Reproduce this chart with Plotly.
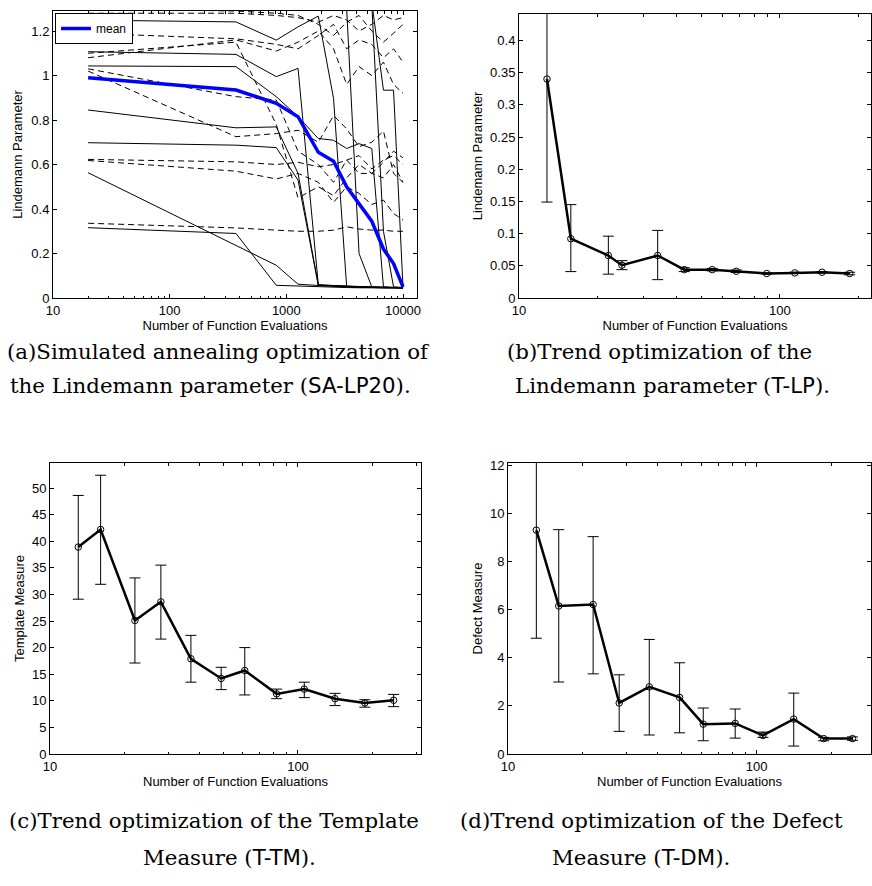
"""
Four-panel figure: simulated annealing runs and trend optimization results.
"""

import plotly.graph_objects as go

W, H = 872, 886

# ---- panel (a): simulated annealing runs, Lindemann parameter ----
sa_evals = [20, 370, 820, 1260, 1880, 2540, 3290, 4200, 5400, 6800, 8300, 10000]

# runs that converged (solid)
sa_solid = [
    [0.316, 0.290, 0.057, 0.053, 0.050, 0.048, 0.047, 0.046, 0.046, 0.045, 0.045, 0.045],
    [0.563, 0.236, 0.147, 0.062, 0.055, 0.052, 0.050, 0.048, 0.047, 0.046, 0.046, 0.045],
    [0.698, 0.687, 0.676, 0.530, 0.057, 0.054, 0.052, 0.050, 0.048, 0.047, 0.046, 0.046],
    [0.845, 0.765, 0.769, 0.560, 0.058, 0.055, 0.053, 0.051, 0.049, 0.048, 0.047, 0.046],
    [1.107, 1.095, 0.995, 1.032, 0.060, 0.055, 0.053, 0.051, 0.050, 0.048, 0.047, 0.046],
    [1.249, 1.241, 1.159, 1.219, 1.267, 0.897, 0.050, 0.048, 0.047, 0.046, 0.046, 0.045],
    [1.043, 1.040, 0.905, 0.815, 0.717, 0.709, 0.672, 0.694, 0.672, 0.050, 0.048, 0.047],
    [1.360, 1.350, 1.340, 1.330, 1.320, 1.310, 1.300, 0.200, 0.050, 0.048, 0.047, 0.046],
    [1.380, 1.370, 1.360, 1.350, 1.340, 1.330, 1.320, 1.310, 1.330, 0.934, 0.934, 0.048],
    [1.400, 1.390, 1.380, 1.370, 1.360, 1.350, 1.340, 1.330, 1.320, 0.300, 0.050, 0.047],
]

# runs that did not converge (dashed)
sa_dashed = [
    [0.336, 0.315, 0.305, 0.300, 0.300, 0.305, 0.320, 0.310, 0.305, 0.305, 0.300, 0.300],
    [0.623, 0.612, 0.600, 0.610, 0.590, 0.600, 0.620, 0.640, 0.580, 0.620, 0.640, 0.600],
    [0.618, 0.570, 0.535, 0.560, 0.520, 0.430, 0.500, 0.470, 0.420, 0.440, 0.380, 0.350],
    [1.020, 0.725, 0.739, 0.754, 0.700, 0.820, 0.760, 0.680, 0.700, 0.750, 0.560, 0.520],
    [1.030, 0.905, 0.890, 0.660, 0.600, 0.520, 0.620, 0.560, 0.560, 0.610, 0.660, 0.630],
    [1.100, 1.150, 0.780, 0.450, 0.500, 0.460, 0.540, 0.600, 0.560, 0.540, 0.600, 0.520],
    [1.080, 1.160, 1.110, 1.150, 1.200, 1.120, 0.960, 1.040, 1.000, 1.060, 0.960, 0.920],
    [1.190, 1.165, 1.140, 1.120, 1.180, 1.230, 1.120, 1.160, 1.140, 1.080, 1.120, 1.060],
    [1.280, 1.280, 1.270, 1.260, 1.240, 1.270, 1.250, 1.200, 1.230, 1.270, 1.250, 1.260],
    [1.300, 1.290, 1.280, 1.270, 1.230, 1.180, 1.240, 1.270, 1.200, 1.150, 1.190, 1.230],
]

sa_mean = [0.990, 0.935, 0.875, 0.815, 0.655, 0.615, 0.500, 0.425, 0.345, 0.220, 0.155, 0.050]

# ---- panel (b): trend optimization, Lindemann parameter ----
lp_evals = [12.8, 15.8, 22, 24.8, 34, 43, 55, 68, 89, 114, 145, 185]
lp_mean = [0.340, 0.092, 0.066, 0.051, 0.066, 0.044, 0.044, 0.0415, 0.038, 0.039, 0.040, 0.038]
lp_upper = [0.530, 0.145, 0.096, 0.058, 0.105, 0.047, 0.046, 0.0435, 0.039, 0.040, 0.041, 0.040]
lp_lower = [0.149, 0.041, 0.037, 0.044, 0.0285, 0.041, 0.042, 0.0395, 0.037, 0.038, 0.039, 0.036]

# ---- panel (c): trend optimization, template measure ----
tm_evals = [13, 16, 22, 28, 37, 49, 61, 82, 106, 141, 186, 243]
tm_mean = [38.9, 42.2, 25.1, 28.6, 17.9, 14.2, 15.7, 11.3, 12.2, 10.4, 9.6, 10.1]
tm_upper = [48.6, 52.4, 33.1, 35.5, 22.3, 16.3, 20.0, 12.2, 13.5, 11.4, 10.2, 11.2]
tm_lower = [29.1, 31.9, 17.1, 21.6, 13.5, 12.1, 11.1, 10.4, 10.6, 9.1, 8.8, 8.9]

# ---- panel (d): trend optimization, defect measure ----
dm_evals = [13, 16, 22, 28, 37, 49, 61, 82, 106, 141, 186, 243]
dm_mean = [9.30, 6.15, 6.21, 2.12, 2.79, 2.35, 1.24, 1.27, 0.77, 1.45, 0.64, 0.64]
dm_upper = [13.8, 9.32, 9.03, 3.29, 4.76, 3.79, 1.91, 1.87, 0.91, 2.53, 0.69, 0.71]
dm_lower = [4.81, 2.99, 3.33, 0.94, 0.79, 0.88, 0.55, 0.66, 0.69, 0.33, 0.55, 0.57]

SANS = "Liberation Sans, Arial, sans-serif"
SERIF = "DejaVu Serif, serif"


def px_x(v):
    return v / W


def px_y(v):
    return 1 - v / H


def axis_style(domain, rng, is_log=False, dtick=None, title="", standoff=2):
    ax = dict(
        domain=domain,
        range=rng,
        type="log" if is_log else "linear",
        showline=True, linecolor="black", linewidth=1, mirror="allticks",
        ticks="inside", ticklen=4, tickcolor="black", tickwidth=1,
        showgrid=False, zeroline=False,
        tickfont=dict(family=SANS, size=13, color="black"),
        title=dict(text=title, font=dict(family=SANS, size=13, color="black"), standoff=standoff),
        automargin=False,
    )
    if is_log:
        ax.update(dtick=1, tickformat="d",
                  minor=dict(ticks="inside", ticklen=2.5, tickcolor="black", showgrid=False))
    else:
        ax.update(dtick=dtick, tick0=0)
    return ax


def trend_trace(x, y, upper, lower, xa, ya):
    return go.Scatter(
        x=x, y=y, xaxis=xa, yaxis=ya, mode="lines+markers", showlegend=False,
        line=dict(color="black", width=2.5),
        marker=dict(symbol="circle-open", size=6.5, color="black", line=dict(width=1)),
        error_y=dict(type="data", symmetric=False,
                     array=[u - m for u, m in zip(upper, y)],
                     arrayminus=[m - l for m, l in zip(y, lower)],
                     color="black", thickness=1, width=5.5),
    )


fig = go.Figure()

for run in sa_dashed:
    fig.add_trace(go.Scatter(x=sa_evals, y=run, xaxis="x", yaxis="y", mode="lines",
                             line=dict(color="black", width=1, dash="6px,4px"), showlegend=False))
for run in sa_solid:
    fig.add_trace(go.Scatter(x=sa_evals, y=run, xaxis="x", yaxis="y", mode="lines",
                             line=dict(color="black", width=1), showlegend=False))
fig.add_trace(go.Scatter(x=sa_evals, y=sa_mean, xaxis="x", yaxis="y", mode="lines", name="mean",
                         line=dict(color="#0000ff", width=3.5), showlegend=True))

fig.add_trace(trend_trace(lp_evals, lp_mean, lp_upper, lp_lower, "x2", "y2"))
fig.add_trace(trend_trace(tm_evals, tm_mean, tm_upper, tm_lower, "x3", "y3"))
fig.add_trace(trend_trace(dm_evals, dm_mean, dm_upper, dm_lower, "x4", "y4"))

xt = "Number of Function Evaluations"
fig.update_layout(
    xaxis=axis_style([px_x(53), px_x(417)], [1, 4.12], True, title=xt),
    yaxis=axis_style([px_y(298), px_y(11)], [0, 1.29], dtick=0.2, title="Lindemann Parameter", standoff=5),
    xaxis2=axis_style([px_x(519), px_x(871)], [1, 2.349], True, title=xt),
    yaxis2=axis_style([px_y(298), px_y(14)], [0, 0.441], dtick=0.05, title="Lindemann Parameter", standoff=4),
    xaxis3=axis_style([px_x(50), px_x(421)], [1, 2.496], True, title=xt),
    yaxis3=axis_style([px_y(754), px_y(463)], [0, 54.7], dtick=5, title="Template Measure", standoff=4),
    xaxis4=axis_style([px_x(508), px_x(871)], [1, 2.46], True, title=xt),
    yaxis4=axis_style([px_y(754), px_y(463)], [0, 12.09], dtick=2, title="Defect Measure", standoff=4),
)
for i in ["", "2", "3", "4"]:
    fig.layout["xaxis" + i].anchor = "y" + i
    fig.layout["yaxis" + i].anchor = "x" + i

captions = [
    ("(a)Simulated annealing optimization of", 218, 351),
    ("the Lindemann parameter (<span style='font-family:DejaVu Sans'>SA-LP20</span>).", 210, 386),
    ("(b)Trend optimization of the", 659, 351),
    ("Lindemann parameter (<span style='font-family:DejaVu Sans'>T-LP</span>).", 672, 386),
    ("(c)Trend optimization of the Template", 214, 820),
    ("Measure (<span style='font-family:DejaVu Sans'>T-TM</span>).", 230, 857),
    ("(d)Trend optimization of the Defect", 651, 820),
    ("Measure (<span style='font-family:DejaVu Sans'>T-DM</span>).", 641, 857),
]
for text, cx, cy in captions:
    fig.add_annotation(text=text, xref="paper", yref="paper", x=px_x(cx), y=px_y(cy),
                       xanchor="center", yanchor="middle", showarrow=False,
                       font=dict(family=SERIF, size=21.3, color="black"))

fig.update_layout(
    template="none",
    width=W, height=H,
    margin=dict(l=0, r=0, t=0, b=0),
    paper_bgcolor="white", plot_bgcolor="white",
    font=dict(family=SANS, color="black"),
    legend=dict(x=px_x(55), y=px_y(13), xanchor="left", yanchor="top",
                bgcolor="white", bordercolor="black", borderwidth=1,
                font=dict(family=SANS, size=12, color="black"), itemwidth=30,
                tracegroupgap=0),
)

# drop the browser's default page margin so the figure sits at the window origin
fig.write_html("out.html", config={"displayModeBar": False},
               post_script="document.body.style.margin='0';")
